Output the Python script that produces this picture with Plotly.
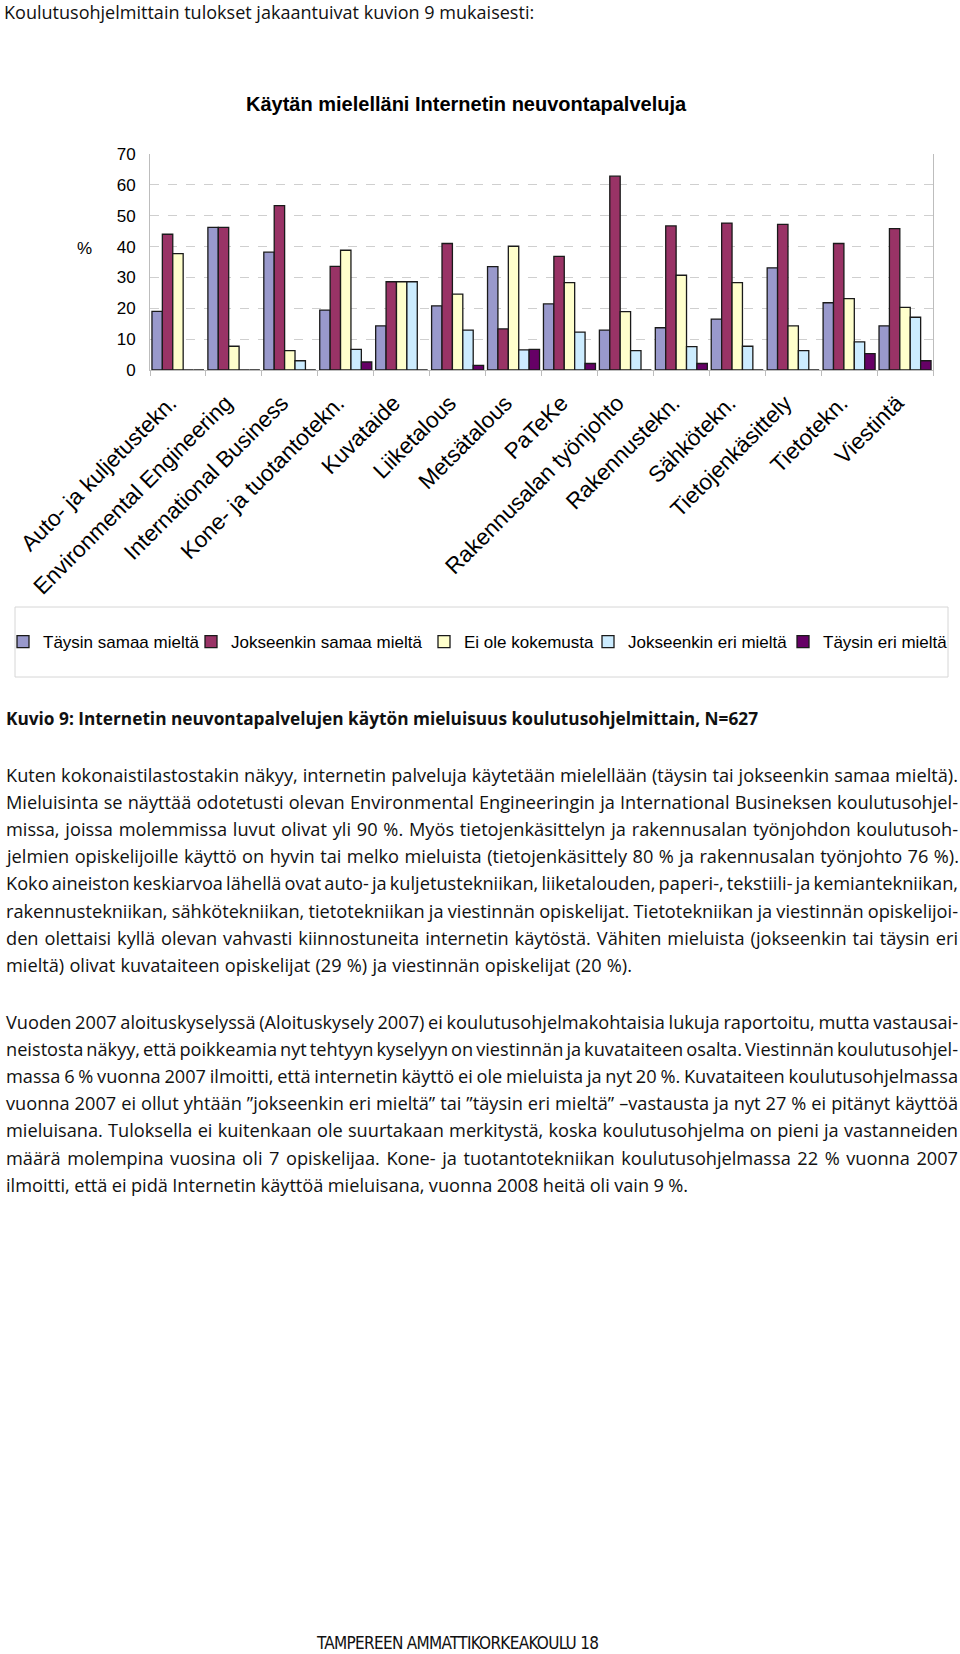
import json
import plotly.graph_objects as go

W, H = 960, 1654

# ---------------- data ----------------
programmes = [
    "Auto- ja kuljetustekn.", "Environmental Engineering", "International Business",
    "Kone- ja tuotantotekn.", "Kuvataide", "Liiketalous", "Metsätalous", "PaTeKe",
    "Rakennusalan työnjohto", "Rakennustekn.", "Sähkötekn.", "Tietojenkäsittely",
    "Tietotekn.", "Viestintä",
]
taysin_samaa = [19.0, 46.2, 38.2, 19.4, 14.3, 20.8, 33.5, 21.4, 12.9, 13.7, 16.5, 33.1, 21.8, 14.3]
jokseenkin_samaa = [44.0, 46.2, 53.3, 33.6, 28.6, 41.0, 13.3, 36.8, 62.8, 46.7, 47.6, 47.2, 41.0, 45.8]
ei_kokemusta = [37.7, 7.7, 6.3, 38.8, 28.6, 24.6, 40.1, 28.3, 18.9, 30.7, 28.3, 14.3, 23.1, 20.3]
jokseenkin_eri = [0, 0, 3.0, 6.7, 28.6, 12.9, 6.5, 12.3, 6.3, 7.6, 7.7, 6.3, 9.1, 17.1]
taysin_eri = [0, 0, 0, 2.6, 0, 1.5, 6.7, 2.1, 0, 2.1, 0, 0, 5.3, 3.0]

series_names = ["Täysin samaa mieltä", "Jokseenkin samaa mieltä", "Ei ole kokemusta",
                "Jokseenkin eri mieltä", "Täysin eri mieltä"]
series_values = [taysin_samaa, jokseenkin_samaa, ei_kokemusta, jokseenkin_eri, taysin_eri]
series_colors = ["#9999CC", "#993366", "#FFFFCC", "#CCECFF", "#660066"]

y_ticks = [0, 10, 20, 30, 40, 50, 60, 70]

chart_title = "Käytän mielelläni Internetin neuvontapalveluja"
intro_text = "Koulutusohjelmittain tulokset jakaantuivat kuvion 9 mukaisesti:"
caption_text = "Kuvio 9: Internetin neuvontapalvelujen käytön mieluisuus koulutusohjelmittain, N=627"
para1 = [
    "Kuten kokonaistilastostakin näkyy, internetin palveluja käytetään mielellään (täysin tai jokseenkin samaa mieltä).",
    "Mieluisinta se näyttää odotetusti olevan Environmental Engineeringin ja International Busineksen koulutusohjel-",
    "missa, joissa molemmissa luvut olivat yli 90 %. Myös tietojenkäsittelyn ja rakennusalan työnjohdon koulutusoh-",
    "jelmien opiskelijoille käyttö on hyvin tai melko mieluista (tietojenkäsittely 80 % ja rakennusalan työnjohto 76 %).",
    "Koko aineiston keskiarvoa lähellä ovat auto- ja kuljetustekniikan, liiketalouden, paperi-, tekstiili- ja kemiantekniikan,",
    "rakennustekniikan, sähkötekniikan, tietotekniikan ja viestinnän opiskelijat. Tietotekniikan ja viestinnän opiskelijoi-",
    "den olettaisi kyllä olevan vahvasti kiinnostuneita internetin käytöstä. Vähiten mieluista (jokseenkin tai täysin eri",
    "mieltä) olivat kuvataiteen opiskelijat (29 %) ja viestinnän opiskelijat (20 %).",
]
para2 = [
    "Vuoden 2007 aloituskyselyssä (Aloituskysely 2007) ei koulutusohjelmakohtaisia lukuja raportoitu, mutta vastausai-",
    "neistosta näkyy, että poikkeamia nyt tehtyyn kyselyyn on viestinnän ja kuvataiteen osalta. Viestinnän koulutusohjel-",
    "massa 6 % vuonna 2007 ilmoitti, että internetin käyttö ei ole mieluista ja nyt 20 %. Kuvataiteen koulutusohjelmassa",
    "vuonna 2007 ei ollut yhtään ”jokseenkin eri mieltä” tai ”täysin eri mieltä” –vastausta ja nyt 27 % ei pitänyt käyttöä",
    "mieluisana. Tuloksella ei kuitenkaan ole suurtakaan merkitystä, koska koulutusohjelma on pieni ja vastanneiden",
    "määrä molempina vuosina oli 7 opiskelijaa. Kone- ja tuotantotekniikan koulutusohjelmassa 22 % vuonna 2007",
    "ilmoitti, että ei pidä Internetin käyttöä mieluisana, vuonna 2008 heitä oli vain 9 %.",
]
footer_text = "TAMPEREEN AMMATTIKORKEAKOULU 18"


def px(x):
    return x / W


def py(y):
    return 1 - y / H


ARIAL = "Liberation Sans, Arial, sans-serif"
BODY = "Open Sans, Noto Sans, sans-serif"

fig = go.Figure()
legend_text_starts = [39, 227, 460, 624, 819]
legend_layouts = {}
for i, (name, vals, col) in enumerate(zip(series_names, series_values, series_colors)):
    key = "legend" if i == 0 else f"legend{i + 1}"
    fig.add_trace(go.Bar(
        name=name, x=programmes, y=vals, showlegend=True,
        marker=dict(color=col, line=dict(color="#1a1a1a", width=1.3)),
        legend=key,
    ))
    legend_layouts[key] = dict(
        x=px(legend_text_starts[i] - 36), y=py(642), xanchor="left", yanchor="middle",
        orientation="h", bgcolor="rgba(0,0,0,0)", borderwidth=0, visible=True,
        font=dict(family=ARIAL, size=17, color="black"),
    )

annotations = []
base_size = {}
fit_size = {}      # fit font-size to width exactly
body_idx = []      # body lines sharing one font size
body_last = {}     # body lines used to determine the common size
just_word = {}     # word-spacing justification
just_letter = {}   # letter-spacing fit


def add_line(text, x, y, font, xanchor="left"):
    idx = len(annotations)
    annotations.append(dict(
        text=text, x=px(x), y=py(y), xref="paper", yref="paper",
        xanchor=xanchor, yanchor="middle", align="left", showarrow=False,
        font=font, borderpad=0,
    ))
    base_size[idx] = font["size"]
    return idx


i_intro = add_line(intro_text, 3, 12, dict(family=BODY, size=17.5, color="#111111"))
fit_size[i_intro] = 530
add_line("<b>" + chart_title + "</b>", 466, 104, dict(family=ARIAL, size=20, color="black"),
         xanchor="center")
add_line("%", 84, 248, dict(family=ARIAL, size=17, color="black"), xanchor="center")
i_cap = add_line("<b>" + caption_text + "</b>", 5, 718, dict(family=BODY, size=17, color="#111111"))
fit_size[i_cap] = 752

body_font = dict(family=BODY, size=17, color="#111111")
p1_y0, p2_y0, lh = 775, 1022, 27.2
for k, line in enumerate(para1):
    idx = add_line(line, 5, p1_y0 + k * lh, body_font)
    body_idx.append(idx)
    if k < len(para1) - 1:
        just_word[idx] = 952
    else:
        body_last[idx] = 626
for k, line in enumerate(para2):
    idx = add_line(line, 5, p2_y0 + k * lh, body_font)
    body_idx.append(idx)
    if k < len(para2) - 1:
        just_word[idx] = 952
    else:
        body_last[idx] = 682

i_foot = add_line(footer_text, 315, 1643,
                  dict(family="Liberation Sans Narrow, DejaVu Sans Condensed, Liberation Sans, sans-serif",
                       size=17, color="#111111"))
just_letter[i_foot] = 282

fig.update_layout(
    width=W, height=H, margin=dict(l=0, r=0, t=0, b=0, autoexpand=False),
    paper_bgcolor="white", plot_bgcolor="white", showlegend=True,
    barmode="group", bargap=0.07, bargroupgap=0,
    annotations=annotations,
    shapes=[dict(type="rect", xref="paper", yref="paper",
                 x0=px(15), x1=px(948), y0=py(677), y1=py(607),
                 line=dict(color="#d6d6d6", width=1), fillcolor="rgba(0,0,0,0)", layer="below")],
    xaxis=dict(
        domain=[px(150), px(933)], type="category", automargin=False,
        showline=True, linecolor="#bdbdbd", linewidth=1,
        ticks="outside", tickson="boundaries", ticklen=5, tickcolor="#bdbdbd",
        tickangle=-45, tickfont=dict(family=ARIAL, size=22.5, color="black"),
        ticklabelstandoff=10, ticklabelshift=-8,
        showgrid=False,
    ),
    yaxis=dict(
        domain=[py(370), py(154)], range=[0, 70], tickvals=y_ticks, automargin=False,
        showline=True, linecolor="#bdbdbd", linewidth=1, mirror=True,
        showgrid=True, gridcolor="#cfcfcf", griddash="dash", gridwidth=1,
        zeroline=False, ticks="", ticklabelstandoff=10,
        tickfont=dict(family=ARIAL, size=17, color="black"),
    ),
    **legend_layouts,
)

cfg = dict(base=base_size, fit=fit_size, body=body_idx, last=body_last,
           word=just_word, letter=just_letter)

post = """
(function(){
var gd = document.getElementById('{plot_id}');
var C = %s;
function E(k){ return gd.querySelector('.annotation[data-index="'+k+'"] text.annotation-text'); }
function reset(el,k){ el.style.wordSpacing='0px'; el.style.letterSpacing='0px'; el.style.fontSize=C.base[k]+'px'; }
function J(){
  Object.keys(C.fit).forEach(function(k){
    var el=E(k); if(!el) return; reset(el,k);
    var fs=C.base[k];
    for(var it=0; it<3; it++){ var L=el.getComputedTextLength(); fs=fs*C.fit[k]/L; el.style.fontSize=fs+'px'; }
  });
  var ratios=[];
  C.body.forEach(function(k){ var el=E(k); if(el) reset(el,k); });
  Object.keys(C.last).forEach(function(k){ var el=E(k); if(!el) return; ratios.push(C.last[k]/el.getComputedTextLength()); });
  if(ratios.length){
    var s=0; ratios.forEach(function(r){s+=r;}); s/=ratios.length;
    C.body.forEach(function(k){ var el=E(k); if(el) el.style.fontSize=(C.base[k]*s)+'px'; });
  }
  var W = Object.assign({}, C.word, C.last);
  Object.keys(W).forEach(function(k){
    var el=E(k); if(!el) return;
    var L=el.getComputedTextLength();
    var n=(el.textContent.match(/[ \\u00a0]/g)||[]).length;
    if(n>0) el.style.wordSpacing=((W[k]-L)/n)+'px';
  });
  Object.keys(C.letter).forEach(function(k){
    var el=E(k); if(!el) return; reset(el,k);
    var L=el.getComputedTextLength(); var n=el.textContent.length-1;
    if(n>0) el.style.letterSpacing=((C.letter[k]-L)/n)+'px';
  });
}
J(); setTimeout(J, 50); setTimeout(J, 400);
if(gd.on) gd.on('plotly_afterplot', J);
})();
""" % json.dumps(cfg)

fig.write_html("out.html", post_script=post)
